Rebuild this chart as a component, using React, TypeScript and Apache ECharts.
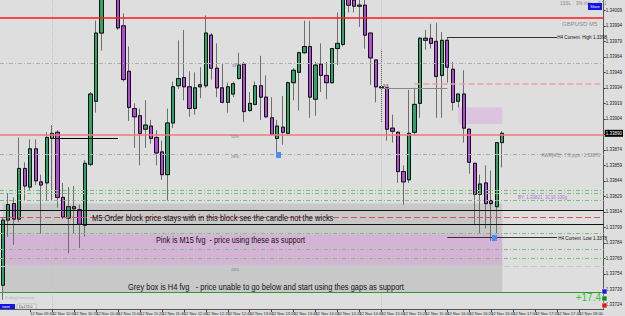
import React, { useEffect, useRef } from "react";
import * as echarts from "echarts";

// ---- candle data (GBPUSD M5) ----
const opens = [1.33743,1.33806,1.33822,1.33807,1.33856,1.33838,1.33875,1.33843,1.33842,1.33885,
1.33891,1.33828,1.33808,1.33819,1.33816,1.33801,1.33860,1.33921,1.33987,1.34038,
1.34072,1.34048,1.33994,1.33950,1.33914,1.33907,1.33894,1.33897,1.33886,1.33872,
1.33850,1.33900,1.33936,1.33944,1.33935,1.33914,1.33935,1.33936,1.33985,1.33953,
1.33934,1.33920,1.33928,1.33943,1.33957,1.33912,1.33918,1.33936,1.33925,1.33905,
1.33885,1.33896,1.33890,1.33939,1.33949,1.33968,1.33974,1.33923,1.33957,1.33946,
1.33939,1.33972,1.33976,1.34029,1.34019,1.34013,1.34014,1.33987,1.33961,1.33935,
1.33934,1.33895,1.33891,1.33853,1.33845,1.33891,1.33919,1.33980,1.33982,1.33979,
1.33946,1.33980,1.33952,1.33921,1.33928,1.33894,1.33861,1.33831,1.33842,1.33825,
1.33819,1.33881];
const closes = [1.33806,1.33821,1.33807,1.33856,1.33839,1.33875,1.33844,1.33840,1.33886,1.33890,
1.33828,1.33809,1.33819,1.33817,1.33802,1.33861,1.33928,1.33987,1.34038,1.34072,
1.34048,1.33992,1.33942,1.33915,1.33906,1.33890,1.33898,1.33885,1.33871,1.33850,
1.33900,1.33935,1.33943,1.33935,1.33914,1.33934,1.33937,1.33987,1.33953,1.33934,
1.33920,1.33935,1.33938,1.33956,1.33911,1.33919,1.33936,1.33925,1.33906,1.33889,
1.33897,1.33891,1.33939,1.33951,1.33968,1.33974,1.33925,1.33956,1.33946,1.33939,
1.33972,1.33977,1.34029,1.34014,1.34013,1.34014,1.33985,1.33963,1.33935,1.33934,
1.33894,1.33892,1.33853,1.33843,1.33890,1.33918,1.33982,1.33982,1.33977,1.33945,
1.33980,1.33954,1.33920,1.33928,1.33895,1.33862,1.33831,1.33841,1.33822,1.33822,
1.33881,1.33890];
const highs = [1.33808,1.33832,1.33828,1.33886,1.33862,1.33884,1.33884,1.33850,1.33891,1.33898,
1.33893,1.33842,1.33838,1.33839,1.33821,1.33864,1.33930,1.33999,1.34058,1.34082,
1.34087,1.34063,1.34006,1.33974,1.33919,1.33914,1.33922,1.33903,1.33893,1.33883,
1.33914,1.33940,1.33980,1.33990,1.33950,1.33949,1.33954,1.34004,1.33987,1.33977,
1.33958,1.33939,1.33940,1.33968,1.33959,1.33930,1.33940,1.33965,1.33946,1.33925,
1.33903,1.33926,1.33940,1.33953,1.33969,1.33999,1.33999,1.33959,1.33977,1.33959,
1.33972,1.34007,1.34038,1.34038,1.34029,1.34024,1.34021,1.33987,1.33961,1.33971,
1.33934,1.33908,1.33892,1.33859,1.33932,1.33934,1.33983,1.33990,1.33996,1.33997,
1.33988,1.33983,1.33959,1.33928,1.33951,1.33894,1.33861,1.33850,1.33859,1.33854,
1.33881,1.33892];
const lows = [1.33729,1.33790,1.33782,1.33804,1.33825,1.33835,1.33840,1.33793,1.33825,1.33825,
1.33818,1.33807,1.33774,1.33793,1.33779,1.33790,1.33858,1.33910,1.33970,1.34024,
1.34038,1.33990,1.33940,1.33902,1.33876,1.33859,1.33876,1.33880,1.33859,1.33845,
1.33825,1.33895,1.33933,1.33922,1.33906,1.33908,1.33924,1.33934,1.33942,1.33925,
1.33919,1.33910,1.33925,1.33942,1.33901,1.33911,1.33917,1.33903,1.33905,1.33888,
1.33866,1.33879,1.33889,1.33922,1.33912,1.33967,1.33905,1.33907,1.33930,1.33923,
1.33938,1.33956,1.33974,1.34007,1.34007,1.33993,1.33972,1.33937,1.33920,1.33901,
1.33883,1.33881,1.33842,1.33821,1.33842,1.33888,1.33905,1.33971,1.33972,1.33905,
1.33905,1.33939,1.33912,1.33915,1.33881,1.33851,1.33801,1.33793,1.33798,1.33786,
1.33793,1.33857];

// ---- axes ----
const slotCount = 110; // candles + right shift area
const firstMinute = 9 * 60 + 15;
const categories: string[] = [];
for (let i = 0; i < slotCount; i++) {
  const m = firstMinute + i * 5;
  const hh = String(Math.floor(m / 60)).padStart(2, "0");
  const mm = String(m % 60).padStart(2, "0");
  categories.push(`12 Nov ${hh}:${mm}`);
}
const yTicks = [1.33724,1.33739,1.33754,1.33769,1.33784,1.33799,1.33814,1.33829,1.33844,1.33859,
1.33874,1.33889,1.33904,1.33919,1.33934,1.33949,1.33964,1.33979,1.33994,1.34009];
const yMin = 1.3372;
const yMax = 1.34019;

// ---- drawn levels / zones ----
const redTopLevel = 1.34002;
const fibTopLevel = 1.33958;
const salmonLevel = 1.33889;
const orderBlockStartLevel = 1.33885;
const h4HighLevel = 1.33983;
const h4LowLevel = 1.33789;
const grayShortLevel = 1.33934;
const pinkDashLevel = 1.33938;
const awrLevel = 1.3387;
const greenLevels = [1.33835, 1.33832, 1.33825, 1.33793, 1.33778, 1.33769];
const blackLevels = [1.33816, 1.33802];
const redDashLevel = 1.33809;
const grayDashLowLevel = 1.33761;
const greenSolidLevel = 1.33736;
const greyBox = [1.33822, 1.33736];
const pinkBox = [1.33792, 1.33763];
const smallPinkBox = [1.33915, 1.33899];

const ff = '"Liberation Sans", Arial, sans-serif';
const labelEvery4 = (i: number) => i % 4 === 1;

function txt(x: number, y: number, text: string, fontSize: number, fill: string, extra: any = {}) {
  return {
    type: "text",
    x,
    y,
    silent: true,
    z: 100,
    scaleX: extra.scaleX ?? 1,
    style: {
      text,
      fontSize,
      fontFamily: ff,
      fill,
      align: extra.align ?? "left",
      verticalAlign: "middle",
      fontWeight: extra.fontWeight ?? "normal",
    },
  };
}

export default function App() {
  const ref = useRef<HTMLDivElement>(null);
  useEffect(() => {
    if (!ref.current) return;
    const chart = echarts.init(ref.current, null, { renderer: "svg" });
    const wickData = opens.map((o, i) => [o, closes[i], lows[i], highs[i]]);
    const bodyData = opens.map((o, i) => [o, closes[i], Math.min(o, closes[i]), Math.max(o, closes[i])]);
    const dd = [4, 2, 1, 2];
    const full = (v: number, color: string, type: any = "solid", width = 1) => ({
      yAxis: v,
      lineStyle: { color, type, width },
    });
    const seg = (a: number, b: number, v: number, color: string, type: any = "solid", width = 1) => [
      { coord: [a, v], lineStyle: { color, type, width } },
      { coord: [b, v] },
    ];
    const lastClose = closes[closes.length - 1];
    const option: any = {
      animation: false,
      backgroundColor: "#dedede",
      grid: { left: 0, top: 0, width: 608, height: 309 },
      xAxis: {
        type: "category",
        data: categories,
        boundaryGap: true,
        axisLine: { show: true, lineStyle: { color: "#555", width: 1 } },
        axisTick: { show: true, interval: labelEvery4, alignWithLabel: true, length: 3, lineStyle: { color: "#444" } },
        axisLabel: { interval: labelEvery4, fontSize: 4, color: "#222", align: "left", margin: 2, fontFamily: ff },
        splitLine: { show: false },
      },
      yAxis: {
        type: "value",
        position: "right",
        min: yMin,
        max: yMax,
        axisLine: { show: true, lineStyle: { color: "#555", width: 1 } },
        axisTick: { show: true, length: 2, customValues: yTicks, lineStyle: { color: "#444" } },
        axisLabel: {
          customValues: yTicks,
          fontSize: 4.5,
          color: "#222",
          margin: 2,
          fontFamily: ff,
          formatter: (v: number) => v.toFixed(5),
        },
        splitLine: { show: false },
      },
      series: [
        {
          type: "candlestick",
          name: "wick",
          data: wickData,
          barWidth: 3.8,
          clip: true,
          z: 3,
          itemStyle: { color: "#6e6e6e", color0: "#6e6e6e", borderColor: "#6e6e6e", borderColor0: "#6e6e6e", borderWidth: 1 },
          markArea: {
            silent: true,
            z: 1,
            label: { show: false },
            data: [
              [{ xAxis: "min", yAxis: greyBox[0], itemStyle: { color: "#c8c8c8" } }, { xAxis: 91, yAxis: greyBox[1] }],
              [{ xAxis: "min", yAxis: pinkBox[0], itemStyle: { color: "#d5b3d6" } }, { xAxis: 91, yAxis: pinkBox[1] }],
              [{ xAxis: 83, yAxis: smallPinkBox[0], itemStyle: { color: "#dcc3de" } }, { xAxis: 91, yAxis: smallPinkBox[1] }],
            ],
          },
        },
        {
          type: "candlestick",
          name: "body",
          data: bodyData,
          barWidth: 3.8,
          clip: true,
          z: 4,
          itemStyle: { color: "#2fa36b", color0: "#b34ad6", borderColor: "#111", borderColor0: "#111", borderWidth: 1 },
          markLine: {
            silent: true,
            precision: 5,
            symbol: ["none", "none"],
            label: { show: false },
            z: 5,
            data: [
              { xAxis: 9, lineStyle: { color: "#c4c4c4", type: "dotted", width: 1 } },
              { xAxis: 69, lineStyle: { color: "#c4c4c4", type: "dotted", width: 1 } },
              full(redTopLevel, "#ff1a1a", "solid", 1.5),
              full(fibTopLevel, "#b0b0b0", dd, 1),
              full(salmonLevel, "#f07878", "solid", 1.5),
              full(awrLevel, "#a8a8a8", dd, 1),
              ...greenLevels.map((v) => full(v, "#74c474", dd, 1)),
              ...blackLevels.map((v) => full(v, "#111", "solid", 1)),
              full(redDashLevel, "#e05050", [6, 3], 1),
              full(grayDashLowLevel, "#c8c8c8", [6, 3], 1),
              full(greenSolidLevel, "#2e9a2e", "solid", 1),
              seg(9, 21, orderBlockStartLevel, "#000", "solid", 1),
              seg(69, 81, grayShortLevel, "#888", "solid", 1),
              seg(75, 109, pinkDashLevel, "#f0a0a0", [6, 3], 1.5),
              seg(81, 101, h4HighLevel, "#333", "solid", 1),
              seg(81, 101, h4LowLevel, "#333", "solid", 1),
            ],
          },
        },
        {
          type: "line",
          name: "price",
          data: [],
          silent: true,
          markLine: {
            silent: true,
            precision: 5,
            symbol: ["none", "none"],
            z: 6,
            data: [
              {
                yAxis: lastClose,
                lineStyle: { color: "rgba(0,0,0,0)", width: 1 },
                label: {
                  show: true,
                  position: "end",
                  distance: 1,
                  formatter: () => lastClose.toFixed(5),
                  backgroundColor: "#000",
                  color: "#fff",
                  fontSize: 4.5,
                  fontFamily: ff,
                  padding: [1, 1],
                },
              },
            ],
          },
        },
      ],
      graphic: [
        txt(560, 3.5, "1SSL", 4.5, "#888"),
        txt(576, 3.5, "3% risk", 4.5, "#888"),
        txt(598, 3.5, "0.71", 4.5, "#888"),
        { type: "rect", x: 588, y: 3, shape: { width: 14, height: 7 }, style: { fill: "#1414e6" }, z: 100 },
        txt(595, 6.5, "Share", 3.5, "#fff", { align: "center" }),
        txt(562, 24, "GBPUSD M5", 6, "#8c8c8c"),
        txt(607, 37, "H4 Current  High 1.3398", 4.6, "#111", { align: "right" }),
        txt(600, 155, "AWR[M5] : 7.9 pips : 1.33870", 4.5, "#8a8a8a", { align: "right" }),
        txt(518, 197, "BY: 1.33821, 3C10 100g", 4.5, "#b070d0"),
        txt(607, 238, "H4 Current  Low 1.3378", 4.6, "#111", { align: "right" }),
        txt(601, 297, "+17.4", 10, "#2ec62e", { align: "right" }),
        { type: "rect", x: 602, y: 289, shape: { width: 5, height: 5 }, style: { fill: "#1a1ae0", stroke: "#fff", lineWidth: 0.5 }, z: 100 },
        { type: "rect", x: 602, y: 296, shape: { width: 5, height: 5 }, style: { fill: "#1a8a1a", stroke: "#fff", lineWidth: 0.5 }, z: 100 },
        { type: "rect", x: 602, y: 303, shape: { width: 5, height: 5 }, style: { fill: "#e01a1a", stroke: "#fff", lineWidth: 0.5 }, z: 100 },
        txt(232, 65, "38%", 4, "#6878a0"),
        txt(231, 136, "50%", 4, "#6878a0"),
        txt(231, 156, "28%", 4, "#6878a0"),
        txt(231, 269, "24%", 4, "#6878a0"),
        txt(383, 85, "1/4", 4, "#333"),
        { type: "rect", x: 276, y: 152, shape: { width: 5, height: 6 }, style: { fill: "#4a8ff0" }, z: 100 },
        { type: "rect", x: 492, y: 235, shape: { width: 5, height: 6 }, style: { fill: "#4a8ff0" }, z: 100 },
        txt(92, 218, "M5 Order block price stays with in this block see the candle not the wicks", 8.5, "#111", { scaleX: 0.88 }),
        txt(156, 240, "Pink is M15 fvg  - price using these as support", 8.5, "#111", { scaleX: 0.86 }),
        txt(128, 287, "Grey box is H4 fvg   - price unable to go below and start using thes gaps as support", 8.5, "#111", { scaleX: 0.88 }),
        txt(5, 298, "TradingCommunity", 3.5, "#b0b0b0"),
        { type: "rect", x: 0, y: 304, shape: { width: 15, height: 5 }, style: { fill: "#1414e6" }, z: 100 },
        txt(2, 306.5, "room", 3.5, "#fff"),
        { type: "rect", x: 17, y: 304, shape: { width: 19, height: 5 }, style: { fill: "#e8e8e8", stroke: "#999", lineWidth: 0.5 }, z: 100 },
        txt(19, 306.5, "D=174.0", 3.5, "#333"),
      ],
    };
    chart.setOption(option);
    return () => chart.dispose();
  }, []);
  return (
    <div
      ref={ref}
      style={{ position: "fixed", left: 0, top: 0, width: 625, height: 316, background: "#dedede" }}
    />
  );
}
